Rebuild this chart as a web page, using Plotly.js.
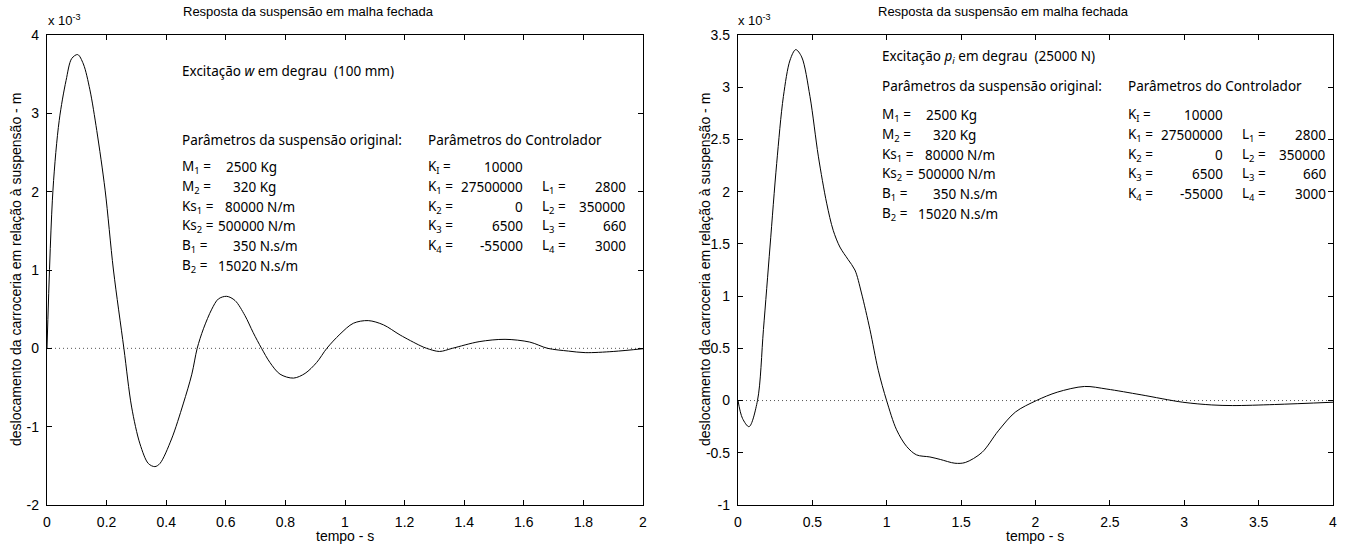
<!DOCTYPE html>
<html><head><meta charset="utf-8">
<script src="https://cdn.plot.ly/plotly-3.0.1.min.js"></script>
<style>html,body{margin:0;padding:0;background:#fff}</style>
</head><body><div id="chart" style="width:1345px;height:544px"></div>
<script>
// ---- data: response to step w (100 mm), x 1e-3 m
const timeStepW = [0, 0.02, 0.041, 0.064, 0.083, 0.103, 0.122, 0.144, 0.167, 0.195, 0.223, 0.258, 0.284, 0.312, 0.34, 0.362, 0.379, 0.418, 0.457, 0.486, 0.504, 0.525, 0.553, 0.575, 0.603, 0.631, 0.664, 0.692, 0.72, 0.748, 0.782, 0.827, 0.866, 0.905, 0.939, 0.983, 1.028, 1.078, 1.129, 1.185, 1.252, 1.274, 1.317, 1.36, 1.45, 1.537, 1.62, 1.68, 1.75, 1.806, 1.9, 2.0];
const dispStepW = [0, 2.02, 2.91, 3.42, 3.70, 3.75, 3.63, 3.30, 2.78, 2.02, 1.0, 0, -0.75, -1.22, -1.47, -1.51, -1.47, -1.157, -0.71, -0.33, 0, 0.25, 0.50, 0.63, 0.664, 0.61, 0.42, 0.20, 0, -0.18, -0.33, -0.38, -0.32, -0.18, 0, 0.18, 0.32, 0.354, 0.30, 0.17, 0.035, 0, -0.04, 0, 0.085, 0.115, 0.08, 0, -0.035, -0.055, -0.04, -0.005];
// ---- data: response to step p_i (25000 N), x 1e-3 m
const timeStepP = [0, 0.03, 0.074, 0.131, 0.171, 0.215, 0.26, 0.305, 0.35, 0.388, 0.428, 0.484, 0.54, 0.596, 0.64, 0.685, 0.74, 0.786, 0.83, 0.887, 0.943, 0.999, 1.066, 1.134, 1.2, 1.29, 1.36, 1.458, 1.528, 1.64, 1.75, 1.865, 2.006, 2.146, 2.33, 2.48, 2.71, 2.99, 3.185, 3.326, 3.607, 4.0];
const dispStepP = [0, -0.17, -0.25, 0, 0.68, 1.47, 2.27, 2.91, 3.26, 3.36, 3.29, 2.91, 2.34, 1.89, 1.63, 1.47, 1.35, 1.25, 1.03, 0.68, 0.29, 0, -0.28, -0.44, -0.52, -0.54, -0.564, -0.6, -0.593, -0.497, -0.29, -0.11, 0, 0.08, 0.135, 0.11, 0.055, -0.016, -0.042, -0.048, -0.038, -0.016];

// ---- ticks
const xTicksW = [0, 0.2, 0.4, 0.6, 0.8, 1, 1.2, 1.4, 1.6, 1.8, 2];
const xTickTextW = ['0', '0.2', '0.4', '0.6', '0.8', '1', '1.2', '1.4', '1.6', '1.8', '2'];
const yTicksW = [-2, -1, 0, 1, 2, 3, 4];
const yTickTextW = ['-2', '-1', '0', '1', '2', '3', '4'];
const xTicksP = [0, 0.5, 1, 1.5, 2, 2.5, 3, 3.5, 4];
const xTickTextP = ['0', '0.5', '1', '1.5', '2', '2.5', '3', '3.5', '4'];
const yTicksP = [-1, -0.5, 0, 0.5, 1, 1.5, 2, 2.5, 3, 3.5];
const yTickTextP = ['-1', '-0.5', '0', '0.5', '1', '1.5', '2', '2.5', '3', '3.5'];

// ---- texts
const chartTitle = 'Resposta da suspensão em malha fechada';
const xTitle = 'tempo - s';
const yTitle = 'deslocamento da carroceria em relação à suspensão - m';
const expText = 'x 10<sup>-3</sup>';
const excitW = 'Excitação <i>w</i> em degrau  (100 mm)';
const excitP = 'Excitação <i>p<sub>i</sub></i> em degrau  (25000 N)';
const suspHeader = 'Parâmetros da suspensão original:';
const ctrlHeader = 'Parâmetros do Controlador';
const suspLabels = ['M<sub>1</sub> =', 'M<sub>2</sub> =', 'Ks<sub>1</sub> =', 'Ks<sub>2</sub> =', 'B<sub>1</sub> =', 'B<sub>2</sub> ='];
const suspValues = ['2500', '320', '80000', '500000', '350', '15020'];
const suspUnits = ['Kg', 'Kg', 'N/m', 'N/m', 'N.s/m', 'N.s/m'];
const ctrlKLabels = ['K<sub>I</sub> =', 'K<sub>1</sub> =', 'K<sub>2</sub> =', 'K<sub>3</sub> =', 'K<sub>4</sub> ='];
const ctrlKValues = ['10000', '27500000', '0', '6500', '-55000'];
const ctrlLLabels = ['L<sub>1</sub> =', 'L<sub>2</sub> =', 'L<sub>3</sub> =', 'L<sub>4</sub> ='];
const ctrlLValues = ['2800', '350000', '660', '3000'];

const W = 1345, H = 544;
const AX = 'Liberation Sans, Arial, sans-serif';
const TX = 'Noto Sans, Open Sans, sans-serif';
const TS = 13.5;
const px = x => x / W, py = y => 1 - y / H;

function ann(text, x, y, o) {
  o = o || {};
  return Object.assign({
    text: text, x: px(x), y: py(y), xref: 'paper', yref: 'paper', showarrow: false,
    xanchor: 'left', yanchor: 'middle', borderpad: 0,
    font: { family: o.family || TX, size: o.size || TS, color: '#000' }
  }, o.extra || {});
}

// layout offsets of the value column (start of number) in each row
const valueOffsets = [44, 51, 43, 36, 51, 36];
function block(x0, y0, excit, excitY, headerY) {
  const a = [];
  a.push(ann(excit, x0, excitY));
  a.push(ann(suspHeader, x0, headerY));
  a.push(ann(ctrlHeader, x0 + 246, headerY));
  const rowH = 19.8;
  suspLabels.forEach((t, i) => {
    const y = y0 + i * rowH;
    a.push(ann(t, x0, y));
    a.push(ann(suspValues[i] + ' ' + suspUnits[i], x0 + valueOffsets[i], y));
  });
  ctrlKLabels.forEach((t, i) => {
    const y = y0 + i * rowH;
    a.push(ann(t, x0 + 246, y));
    a.push(ann(ctrlKValues[i], x0 + 343, y, { extra: { xanchor: 'right' } }));
  });
  ctrlLLabels.forEach((t, i) => {
    const y = y0 + (i + 1) * rowH;
    a.push(ann(t, x0 + 360, y));
    a.push(ann(ctrlLValues[i], x0 + 446, y, { extra: { xanchor: 'right' } }));
  });
  return a;
}

const lineStyle = { color: '#000', width: 1, shape: 'spline', smoothing: 0.9 };
const zeroStyle = { color: '#555', width: 1, dash: '1px,3px' };
const traces = [
  { x: [0, 2], y: [0, 0], xaxis: 'x', yaxis: 'y', mode: 'lines', line: zeroStyle, hoverinfo: 'skip' },
  { x: timeStepW, y: dispStepW, xaxis: 'x', yaxis: 'y', mode: 'lines', line: lineStyle },
  { x: [0, 4], y: [0, 0], xaxis: 'x2', yaxis: 'y2', mode: 'lines', line: zeroStyle, hoverinfo: 'skip' },
  { x: timeStepP, y: dispStepP, xaxis: 'x2', yaxis: 'y2', mode: 'lines', line: lineStyle }
];

function axis(dom, range, tv, tt, anchor) {
  return {
    domain: dom, range: range, anchor: anchor, tickmode: 'array', tickvals: tv, ticktext: tt,
    ticks: 'inside', ticklen: 5, tickwidth: 1, tickcolor: '#000',
    showline: true, linecolor: '#000', linewidth: 1.2, mirror: 'ticks',
    showgrid: false, zeroline: false, ticklabelstandoff: 4,
    tickfont: { family: AX, size: 14, color: '#000' }
  };
}
const yDom = [1 - 505 / H, 1 - 35 / H];
const layout = {
  width: W, height: H, margin: { l: 0, r: 0, t: 0, b: 0 },
  paper_bgcolor: '#fff', plot_bgcolor: '#fff', showlegend: false,
  xaxis: axis([47 / W, 643 / W], [0, 2], xTicksW, xTickTextW, 'y'),
  yaxis: axis(yDom, [-2, 4], yTicksW, yTickTextW, 'x'),
  xaxis2: axis([738 / W, 1333 / W], [0, 4], xTicksP, xTickTextP, 'y2'),
  yaxis2: axis(yDom, [-1, 3.5], yTicksP, yTickTextP, 'x2'),
  annotations: [
    ann(chartTitle, 308, 11, { family: AX, size: 13, extra: { xanchor: 'center' } }),
    ann(chartTitle, 1003, 11, { family: AX, size: 13, extra: { xanchor: 'center' } }),
    ann(expText, 47, 20, { family: AX, size: 13 }),
    ann(expText, 737, 20, { family: AX, size: 13 }),
    ann(xTitle, 345, 536, { family: AX, size: 14, extra: { xanchor: 'center' } }),
    ann(xTitle, 1035, 536, { family: AX, size: 14, extra: { xanchor: 'center' } }),
    ann(yTitle, 16, 270, { family: AX, size: 14, extra: { xanchor: 'center', textangle: -90 } }),
    ann(yTitle, 705, 270, { family: AX, size: 14, extra: { xanchor: 'center', textangle: -90 } })
  ].concat(block(181, 167, excitW, 71, 140)).concat(block(881, 115, excitP, 57, 86))
};
Plotly.newPlot('chart', traces, layout, { displayModeBar: false, staticPlot: true });
</script></body></html>
